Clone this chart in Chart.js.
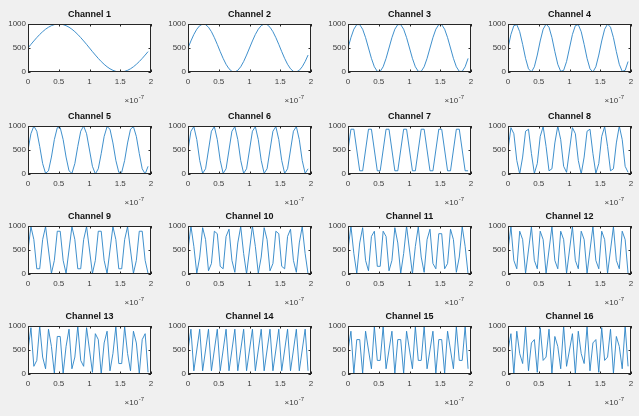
<!DOCTYPE html>
<html>
<head>
<meta charset="utf-8">
<script src="https://cdn.jsdelivr.net/npm/chart.js@4.4.1/dist/chart.umd.min.js"></script>
<style>
  html, body { margin: 0; padding: 0; }
  body { width: 639px; height: 416px; background: #f0f0f0; position: relative; overflow: hidden; }
  canvas { position: absolute; }
</style>
</head>
<body>
<script>
// sample times, in units of 1e-7 s (42 samples)
const time = [0, 0.0476, 0.0952, 0.1429, 0.1905, 0.2381, 0.2857, 0.3333, 0.381, 0.4286,
  0.4762, 0.5238, 0.5714, 0.619, 0.6667, 0.7143, 0.7619, 0.8095, 0.8571, 0.9048,
  0.9524, 1.0, 1.0476, 1.0952, 1.1429, 1.1905, 1.2381, 1.2857, 1.3333, 1.381,
  1.4286, 1.4762, 1.5238, 1.5714, 1.619, 1.6667, 1.7143, 1.7619, 1.8095, 1.8571,
  1.9048, 1.9524];

const ch1 = [500,575,647,717,782,840,891,933,965,987,999,999,987,965,933,891,840,782,717,647,575,
  500,425,353,283,218,160,109,67,35,13,1,1,13,35,67,109,160,218,283,353,425];
const ch2 = [500,647,782,891,965,999,987,933,840,717,575,425,283,160,67,13,1,35,109,218,353,
  500,647,782,891,965,999,987,933,840,717,575,425,283,160,67,13,1,35,109,218,353];
const ch3 = [500,717,891,987,987,891,717,500,283,109,13,13,109,283,
  500,717,891,987,987,891,717,500,283,109,13,13,109,283,
  500,717,891,987,987,891,717,500,283,109,13,13,109,283];
const ch4 = [500,782,965,987,840,575,283,67,1,109,353,647,891,999,933,717,425,160,13,35,218,
  500,782,965,987,840,575,283,67,1,109,353,647,891,999,933,717,425,160,13,35,218];
const ch5 = [500,840,999,891,575,218,13,67,353,717,965,965,717,353,67,13,218,575,891,999,840,
  500,160,1,109,425,782,987,933,647,283,35,35,283,647,933,987,782,425,109,1,160];
const ch6 = [500,891,987,717,283,13,109, 500,891,987,717,283,13,109, 500,891,987,717,283,13,109,
  500,891,987,717,283,13,109, 500,891,987,717,283,13,109, 500,891,987,717,283,13,109];
const ch7 = [500,933,933,500,67,67, 500,933,933,500,67,67, 500,933,933,500,67,67, 500,933,933,500,67,67,
  500,933,933,500,67,67, 500,933,933,500,67,67, 500,933,933,500,67,67];
const ch8 = [500,965,840,283,1,353,891,933,425,13,218,782,987,575,67,109,647,999,717,160,35,
  500,965,840,283,1,353,891,933,425,13,218,782,987,575,67,109,647,999,717,160,35];
const ch9 = [500,987,717,109,109,717,987,500,13,283,891,891,283,13,
  500,987,717,109,109,717,987,500,13,283,891,891,283,13,
  500,987,717,109,109,717,987,500,13,283,891,891,283,13];
const ch10 = [500,999,575,13,353,965,717,67,218,891,840,160,109,782,933,283,35,647,987,425,1,
  500,999,575,13,353,965,717,67,218,891,840,160,109,782,933,283,35,647,987,425,1];
const ch11 = [500,999,425,13,647,965,283,67,782,891,160,160,891,782,67,283,965,647,13,425,999,
  500,1,575,987,353,35,717,933,218,109,840,840,109,218,933,717,35,353,987,575,1];
const ch12 = [500,987,283,109,891,717,13, 500,987,283,109,891,717,13, 500,987,283,109,891,717,13,
  500,987,283,109,891,717,13, 500,987,283,109,891,717,13, 500,987,283,109,891,717,13];
const ch13 = [500,965,160,283,999,353,109,933,575,13,782,782,13,575,933,109,353,999,283,160,965,
  500,35,840,717,1,647,891,67,425,987,218,218,987,425,67,891,647,1,717,840,35];
const ch14 = [500,933,67,500,933,67,500,933,67,500,933,67,500,933,67,500,933,67,500,933,67,
  500,933,67,500,933,67,500,933,67,500,933,67,500,933,67,500,933,67,500,933,67];
const ch15 = [500,891,13,717,717,13,891,500,109,987,283,283,987,109,
  500,891,13,717,717,13,891,500,109,987,283,283,987,109,
  500,891,13,717,717,13,891,500,109,987,283,283,987,109];
const ch16 = [500,840,1,891,425,218,987,67,647,717,35,965,283,353,933,13,782,575,109,999,160,
  500,840,1,891,425,218,987,67,647,717,35,965,283,353,933,13,782,575,109,999,160];

const channels = [ch1, ch2, ch3, ch4, ch5, ch6, ch7, ch8, ch9, ch10, ch11, ch12, ch13, ch14, ch15, ch16];
const titles = channels.map((c, i) => 'Channel ' + (i + 1));
const xTicks = [0, 0.5, 1, 1.5, 2];
const yTicks = [0, 500, 1000];

const FONT = '"Liberation Sans", Arial, Helvetica, sans-serif';
const AXIS_COLOR = '#262626';
const LABEL_COLOR = '#3c3c3c';
const rowTops = [0, 102, 202, 302];
const colLefts = [0, 160, 320, 480];

Chart.defaults.font.family = FONT;

// white axes area, box, inward ticks, title and the x10^-7 exponent
const matlabAxes = {
  id: 'matlabAxes',
  beforeDatasetsDraw(chart) {
    const a = chart.chartArea, ctx = chart.ctx;
    ctx.save();
    ctx.fillStyle = '#ffffff';
    ctx.fillRect(a.left, a.top, a.right - a.left, a.bottom - a.top);
    ctx.restore();
  },
  afterDraw(chart) {
    const a = chart.chartArea, ctx = chart.ctx;
    ctx.save();
    ctx.strokeStyle = AXIS_COLOR;
    ctx.lineWidth = 1;
    ctx.strokeRect(Math.round(a.left) + 0.5, Math.round(a.top) + 0.5,
      Math.round(a.right - a.left) - 1, Math.round(a.bottom - a.top) - 1);

    ctx.beginPath();
    xTicks.forEach(v => {
      const px = Math.round(chart.scales.x.getPixelForValue(v)) + 0.5;
      ctx.moveTo(px, a.bottom); ctx.lineTo(px, a.bottom - 2.5);
      ctx.moveTo(px, a.top); ctx.lineTo(px, a.top + 2.5);
    });
    yTicks.forEach(v => {
      const py = Math.round(chart.scales.y.getPixelForValue(v)) + 0.5;
      ctx.moveTo(a.left, py); ctx.lineTo(a.left + 2.5, py);
      ctx.moveTo(a.right, py); ctx.lineTo(a.right - 2.5, py);
    });
    ctx.stroke();

    // title
    ctx.fillStyle = '#111111';
    ctx.font = 'bold 9px ' + FONT;
    ctx.textAlign = 'center';
    ctx.textBaseline = 'middle';
    ctx.fillText(chart.options.plugins.subTitleText, (a.left + a.right) / 2, a.top - 9.5);

    // exponent label
    ctx.fillStyle = LABEL_COLOR;
    ctx.textAlign = 'right';
    ctx.textBaseline = 'alphabetic';
    ctx.font = '6px ' + FONT;
    const supRight = a.right - 7;
    ctx.fillText('-7', supRight, a.bottom + 27);
    const supW = ctx.measureText('-7').width;
    ctx.font = '8px ' + FONT;
    ctx.fillText('\u00d710', supRight - supW - 0.5, a.bottom + 31);
    ctx.restore();
  }
};

channels.forEach((values, i) => {
  const row = Math.floor(i / 4), col = i % 4;
  const canvas = document.createElement('canvas');
  canvas.width = 160;
  canvas.height = 110;
  canvas.style.left = colLefts[col] + 'px';
  canvas.style.top = rowTops[row] + 'px';
  document.body.appendChild(canvas);

  new Chart(canvas.getContext('2d'), {
    type: 'line',
    data: {
      datasets: [{
        data: time.map((t, k) => ({ x: t, y: values[k] })),
        borderColor: '#2a83c6',
        borderWidth: 0.9,
        pointRadius: 0,
        tension: 0,
        fill: false
      }]
    },
    options: {
      responsive: false,
      animation: false,
      devicePixelRatio: 1,
      layout: { padding: { top: 24, right: 9, left: 0, bottom: 0 } },
      plugins: {
        legend: { display: false },
        tooltip: { enabled: false },
        subTitleText: titles[i]
      },
      scales: {
        x: {
          type: 'linear',
          min: 0,
          max: 2,
          afterBuildTicks: s => { s.ticks = xTicks.map(v => ({ value: v })); },
          afterFit: s => { s.height = 38; },
          grid: { display: false, drawTicks: false },
          border: { display: false },
          ticks: {
            color: LABEL_COLOR,
            font: { size: 8 },
            padding: 5,
            maxRotation: 0,
            autoSkip: false,
            callback: v => String(v)
          }
        },
        y: {
          type: 'linear',
          min: 0,
          max: 1000,
          afterBuildTicks: s => { s.ticks = yTicks.map(v => ({ value: v })); },
          afterFit: s => { s.width = 28; },
          grid: { display: false, drawTicks: false },
          border: { display: false },
          ticks: {
            color: LABEL_COLOR,
            font: { size: 8 },
            padding: 2,
            autoSkip: false,
            callback: v => String(v)
          }
        }
      }
    },
    plugins: [matlabAxes]
  });
});
</script>
</body>
</html>
